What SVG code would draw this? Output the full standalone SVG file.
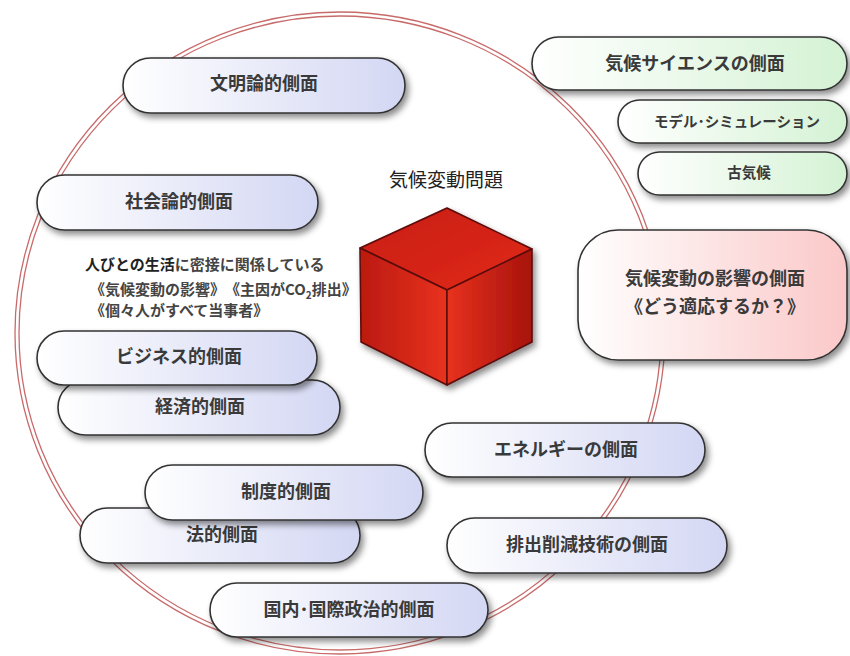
<svg xmlns="http://www.w3.org/2000/svg" width="850" height="656" viewBox="0 0 850 656">
  <defs>
    <linearGradient id="gLav" x1="0" y1="0" x2="1" y2="0">
      <stop offset="0" stop-color="#ffffff"/>
      <stop offset="1" stop-color="#d3d7f3"/>
    </linearGradient>
    <linearGradient id="gGreen" x1="0" y1="0" x2="1" y2="0">
      <stop offset="0" stop-color="#ffffff"/>
      <stop offset="1" stop-color="#d4f2d4"/>
    </linearGradient>
    <linearGradient id="gPink" x1="0" y1="0" x2="1" y2="0">
      <stop offset="0" stop-color="#ffffff"/>
      <stop offset="1" stop-color="#fbc8c8"/>
    </linearGradient>
    <linearGradient id="gTop" x1="0" y1="0" x2="1" y2="1">
      <stop offset="0" stop-color="#c81c10"/>
      <stop offset="1" stop-color="#e02a18"/>
    </linearGradient>
    <linearGradient id="gLeft" x1="0" y1="0" x2="1" y2="0">
      <stop offset="0" stop-color="#bb1a10"/>
      <stop offset="1" stop-color="#e8321e"/>
    </linearGradient>
    <linearGradient id="gRight" x1="0" y1="0" x2="1" y2="0">
      <stop offset="0" stop-color="#e8321e"/>
      <stop offset="1" stop-color="#a6120c"/>
    </linearGradient>
    <filter id="shadow" x="-10%" y="-20%" width="125%" height="160%">
      <feDropShadow dx="3" dy="4" stdDeviation="3" flood-color="#000" flood-opacity="0.45"/>
    </filter>
  </defs>
  <style>
    .pill { stroke: #333; stroke-width: 1.6; filter: url(#shadow); }
    .lav { fill: url(#gLav); }
    .green { fill: url(#gGreen); }
    .pink { fill: url(#gPink); }
    .ring { fill: none; stroke: #c86a6a; stroke-width: 1.3; }
    text { font-family: "Noto Sans CJK JP", "Noto Sans", sans-serif; fill: #3a3a3a; }
    .label { font-size: 18px; font-weight: bold; text-anchor: middle; dominant-baseline: central; }
    .small { font-size: 14.5px; }
    .note { font-size: 15px; font-weight: bold; fill: #444; }
    .title { font-size: 19px; text-anchor: middle; fill: #222; }
    .edge { stroke: #5a0808; stroke-width: 1.5; stroke-linejoin: round; }
  </style>

  <rect width="850" height="656" fill="#ffffff"/>

  <!-- double ring enclosing the aspects -->
  <g id="ring">
    <ellipse class="ring" cx="340" cy="333" rx="325" ry="321"/>
    <ellipse class="ring" cx="340" cy="333" rx="321" ry="317"/>
  </g>

  <!-- central cube -->
  <g id="problem">
    <text class="title" x="446" y="187">気候変動問題</text>
    <g filter="url(#shadow)">
      <polygon class="edge" fill="url(#gTop)" points="447,208 532,249 447,290 360,248"/>
      <polygon class="edge" fill="url(#gLeft)" points="360,248 447,290 447,385 361,342"/>
      <polygon class="edge" fill="url(#gRight)" points="447,290 532,249 532,342 447,385"/>
    </g>
  </g>

  <g id="bunmei">
    <rect class="pill lav" x="123" y="58" width="282" height="55" rx="27.5"/>
    <text class="label" x="264" y="82">文明論的側面</text>
  </g>

  <g id="shakai">
    <rect class="pill lav" x="37" y="175" width="281" height="55" rx="27.5"/>
    <text class="label" x="179" y="200">社会論的側面</text>
  </g>

  <g id="note">
    <text class="note" x="85" y="270"><tspan fill="#222">人びとの生活</tspan>に密接に関係している</text>
    <text class="note" x="90" y="295">《気候変動の影響》　《主因がCO<tspan font-size="10" dy="4">2</tspan><tspan dy="-4">排出》</tspan></text>
    <text class="note" x="90" y="316">《個々人がすべて当事者》</text>
  </g>

  <g id="keizai">
    <rect class="pill lav" x="58" y="380" width="282" height="55" rx="27.5"/>
    <text class="label" x="200" y="405">経済的側面</text>
  </g>

  <g id="business">
    <rect class="pill lav" x="37" y="331" width="280" height="54" rx="27"/>
    <text class="label" x="179" y="355">ビジネス的側面</text>
  </g>

  <g id="houteki">
    <rect class="pill lav" x="80" y="508" width="280" height="55" rx="27.5"/>
    <text class="label" x="222" y="533">法的側面</text>
  </g>

  <g id="seido">
    <rect class="pill lav" x="145" y="465" width="278" height="55" rx="27.5"/>
    <text class="label" x="286" y="490">制度的側面</text>
  </g>

  <g id="kokunai">
    <rect class="pill lav" x="210" y="583" width="278" height="54" rx="27"/>
    <text class="label" x="349" y="608">国内･国際政治的側面</text>
  </g>

  <g id="energy">
    <rect class="pill lav" x="425" y="423" width="280" height="54" rx="27"/>
    <text class="label" x="566" y="448">エネルギーの側面</text>
  </g>

  <g id="haishutsu">
    <rect class="pill lav" x="447" y="518" width="280" height="55" rx="27.5"/>
    <text class="label" x="587" y="543">排出削減技術の側面</text>
  </g>

  <g id="science">
    <rect class="pill green" x="532" y="37" width="315" height="53" rx="26.5"/>
    <text class="label" x="695" y="62">気候サイエンスの側面</text>
  </g>

  <g id="model">
    <rect class="pill green" x="618" y="100" width="229" height="43" rx="21.5"/>
    <text class="label small" x="737" y="120">モデル･シミュレーション</text>
  </g>

  <g id="kokikou">
    <rect class="pill green" x="638" y="152" width="209" height="43" rx="21.5"/>
    <text class="label small" x="749" y="171">古気候</text>
  </g>

  <g id="eikyou">
    <rect class="pill pink" x="578" y="230" width="269" height="130" rx="40"/>
    <text class="label" x="715" y="277">気候変動の影響の側面</text>
    <text class="label" x="715" y="305">《どう適応するか？》</text>
  </g>

  <!-- no connectors in this figure -->
  <g id="connectors"/>
</svg>
